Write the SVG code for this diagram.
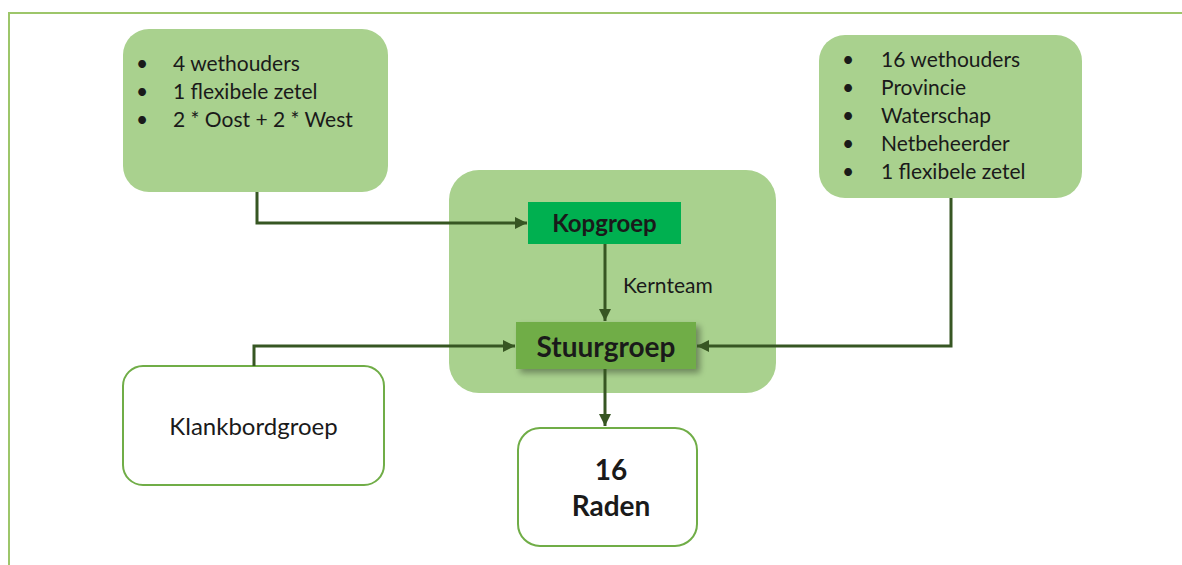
<svg xmlns="http://www.w3.org/2000/svg" width="1182" height="565" viewBox="0 0 1182 565">
<defs>
<style>
.lt{fill:#a9d18e;}
.wb{fill:#fff;stroke:#70ad47;stroke-width:2;}
.t{font-family:Lato,"Open Sans",sans-serif;fill:#1a1a1a;}
.b{font-weight:bold;}
.c{stroke:#375623;stroke-width:3;fill:none;}
</style>
<marker id="ah" viewBox="0 0 10 10" refX="10" refY="5" markerWidth="4" markerHeight="4" orient="auto" markerUnits="strokeWidth">
<path d="M0,0 L10,5 L0,10 Z" fill="#375623"/>
</marker>
<filter id="sh" x="-10%" y="-20%" width="130%" height="160%">
<feGaussianBlur in="SourceAlpha" stdDeviation="3"/>
<feOffset dx="4" dy="4"/>
<feComponentTransfer><feFuncA type="linear" slope="0.35"/></feComponentTransfer>
<feMerge><feMergeNode/><feMergeNode in="SourceGraphic"/></feMerge>
</filter>
</defs>
<rect width="1182" height="565" fill="#fff"/>
<path d="M9,565 V13 H1182" fill="none" stroke="#9dc66a" stroke-width="2"/>

<g id="box-left">
<rect class="lt" x="123" y="29" width="265" height="163" rx="26"/>
<g class="t" font-size="21">
<text x="136" y="71">•</text><text x="173" y="71">4 wethouders</text>
<text x="136" y="99">•</text><text x="173" y="99">1 flexibele zetel</text>
<text x="136" y="127">•</text><text x="173" y="127">2 * Oost + 2 * West</text>
</g>
</g>

<g id="box-right">
<rect class="lt" x="819" y="35" width="263" height="163" rx="26"/>
<g class="t" font-size="21">
<text x="842" y="67">•</text><text x="881" y="67">16 wethouders</text>
<text x="842" y="95">•</text><text x="881" y="95">Provincie</text>
<text x="842" y="123">•</text><text x="881" y="123">Waterschap</text>
<text x="842" y="151">•</text><text x="881" y="151">Netbeheerder</text>
<text x="842" y="179">•</text><text x="881" y="179">1 flexibele zetel</text>
</g>
</g>

<g id="kernteam">
<rect class="lt" x="449" y="170" width="327" height="223" rx="30"/>
</g>

<g id="kopgroep">
<rect x="528" y="202" width="153" height="42" fill="#00b050"/>
<text class="t b" x="604.5" y="232" font-size="24" text-anchor="middle">Kopgroep</text>
</g>

<g id="stuurgroep">
<rect x="516" y="322" width="180" height="47" fill="#70ad47" filter="url(#sh)"/>
<text class="t b" x="606" y="357" font-size="28" text-anchor="middle">Stuurgroep</text>
</g>

<g id="klankbordgroep">
<rect class="wb" x="123" y="366" width="261" height="119" rx="20"/>
<text class="t" x="253.5" y="435" font-size="24" text-anchor="middle">Klankbordgroep</text>
</g>

<g id="raden">
<rect class="wb" x="518" y="428" width="179" height="118" rx="22"/>
<text class="t b" x="611" y="480" font-size="28" text-anchor="middle">16</text>
<text class="t b" x="611" y="516" font-size="28" text-anchor="middle">Raden</text>
</g>

<g id="connectors">
<path class="c" d="M257,192 V223 H527" marker-end="url(#ah)"/>
<path class="c" d="M605,244 V321" marker-end="url(#ah)"/>
<path class="c" d="M254,366 V346 H515" marker-end="url(#ah)"/>
<path class="c" d="M951,198 V346 H697" marker-end="url(#ah)"/>
<path class="c" d="M605,369 V426" marker-end="url(#ah)"/>
<text class="t" x="623" y="293" font-size="21">Kernteam</text>
</g>
</svg>
